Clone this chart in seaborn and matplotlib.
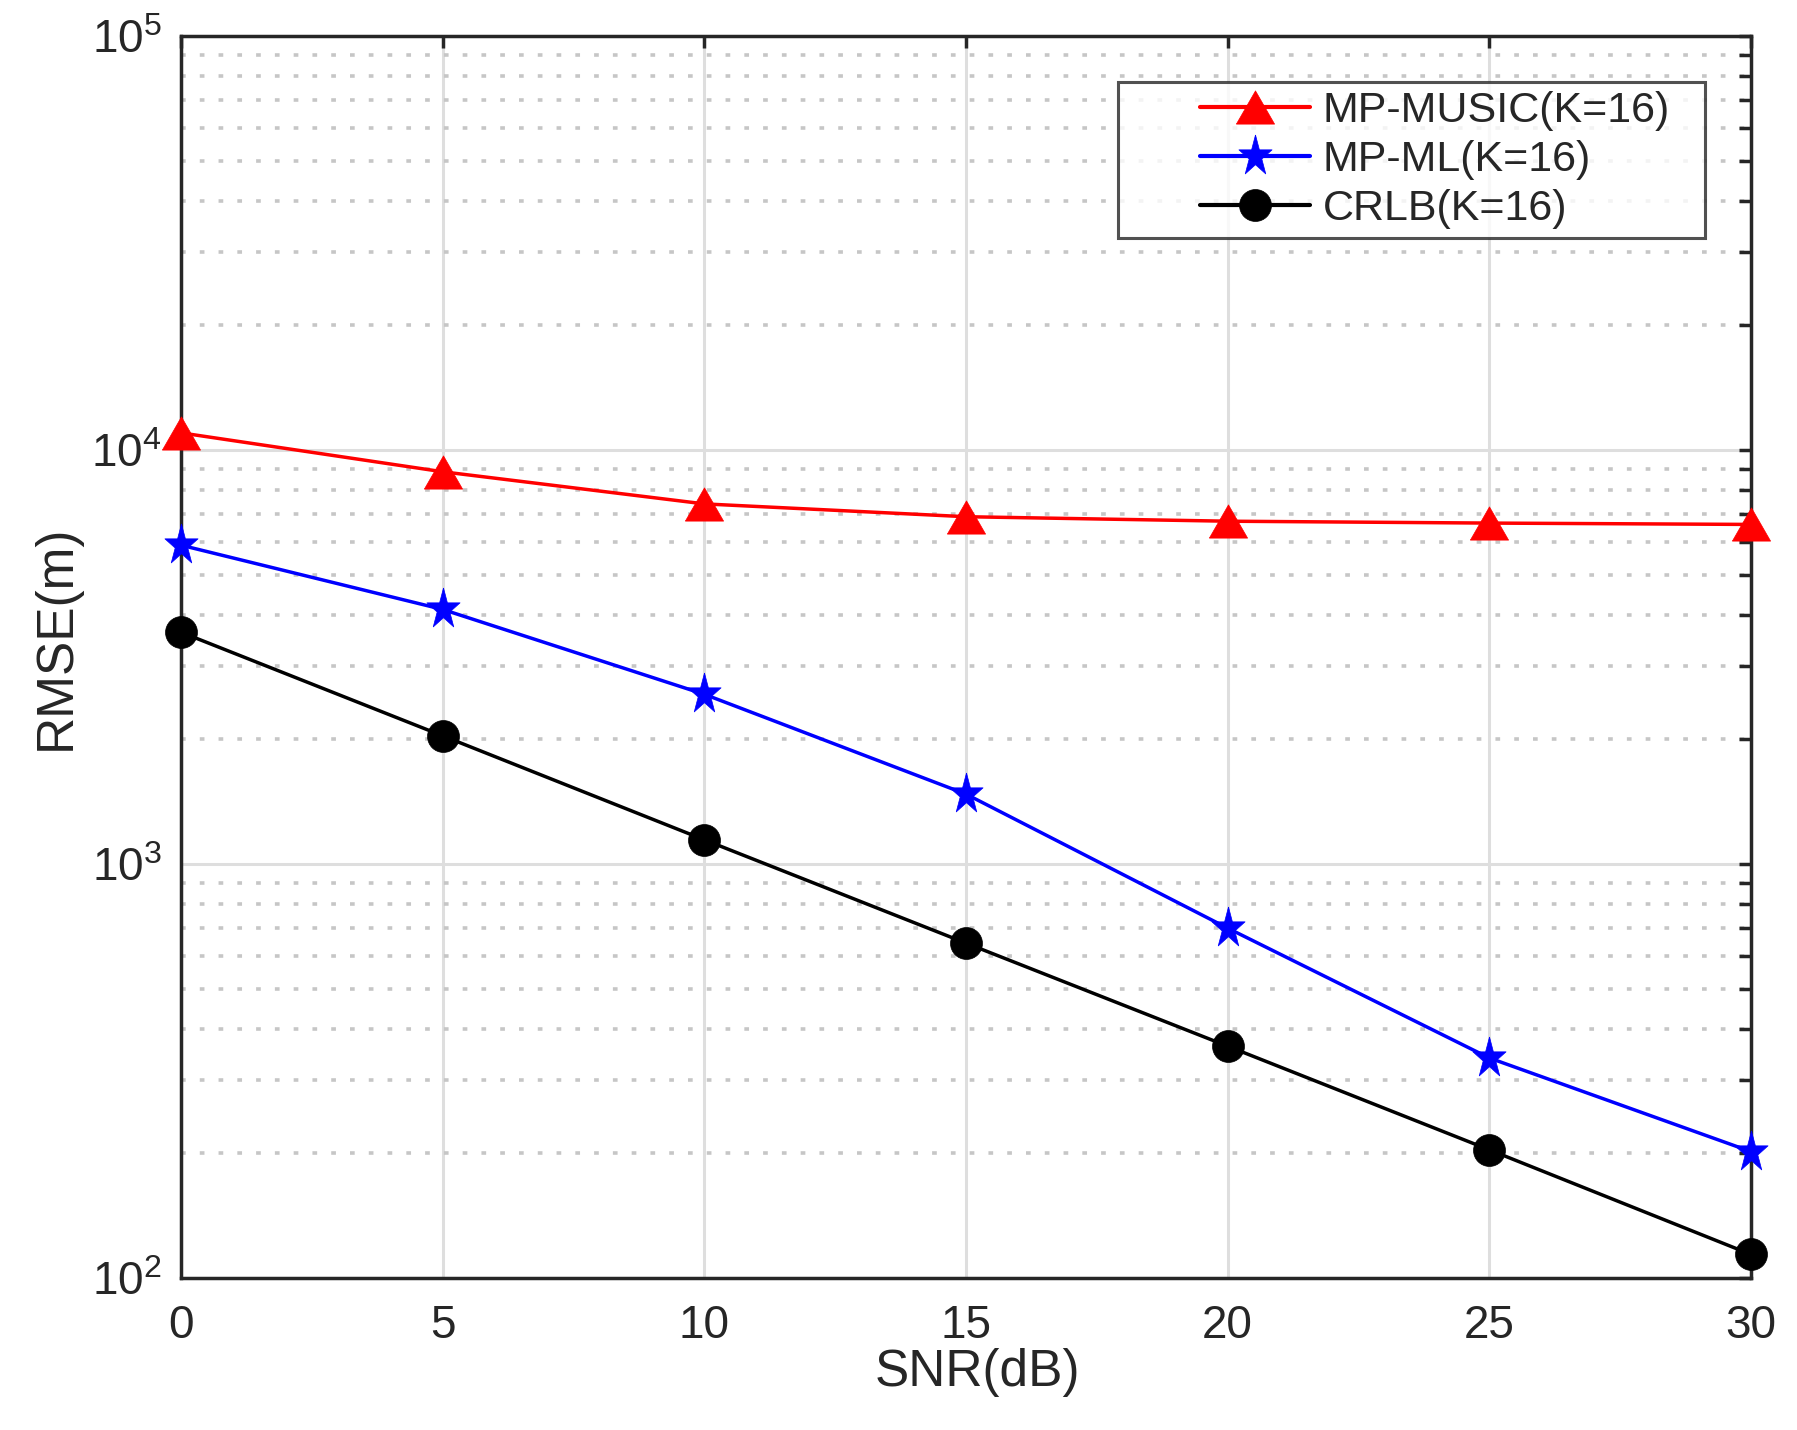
import numpy as np
import pandas as pd
import matplotlib
matplotlib.use("Agg")
import matplotlib.pyplot as plt
import seaborn as sns
from matplotlib.ticker import LogLocator, LogFormatterSciNotation, NullFormatter
from matplotlib.legend_handler import HandlerLine2D

snr = [0, 5, 10, 15, 20, 25, 30]
music = [11000, 8860, 7410, 6900, 6730, 6660, 6610]
ml = [5890, 4120, 2570, 1475, 700, 340, 202]
crlb = [3630, 2040, 1144, 644, 363, 204, 114]
labels = ["MP-MUSIC(K=16)", "MP-ML(K=16)", "CRLB(K=16)"]

sns.set_style("white")
plt.rcParams['font.family'] = ['Liberation Sans', 'DejaVu Sans']
plt.rcParams['mathtext.fontset'] = 'custom'
plt.rcParams['mathtext.rm'] = 'Liberation Sans'
plt.rcParams['mathtext.default'] = 'regular'

df = pd.DataFrame({
    "SNR": snr * 3,
    "RMSE": music + ml + crlb,
    "series": [labels[0]] * 7 + [labels[1]] * 7 + [labels[2]] * 7,
})

# MATLAB-like marker shapes
tri = [(-1.0, -0.87), (1.0, -0.87), (0.0, 0.87), (-1.0, -0.87)]
ang = np.deg2rad(90 + 36 * np.arange(10))
rad = np.where(np.arange(10) % 2 == 0, 1.0, 0.382)
star = [(0.81 * r * np.cos(a), r * np.sin(a)) for r, a in zip(rad, ang)]
star.append(star[0])

fig = plt.figure(figsize=(17.97, 14.30), dpi=100)
ax = fig.add_axes([181 / 1797, 1 - 1278 / 1430, 1570 / 1797, 1242 / 1430])

colors = ["#ff0000", "#0000ff", "#000000"]
markers = [tri, star, "o"]
msizes = [27.5, 31, 23]
for lab, c, m, ms in zip(labels, colors, markers, msizes):
    sub = df[df["series"] == lab]
    sns.lineplot(data=sub, x="SNR", y="RMSE", color=c, marker=m, markersize=ms,
                 markeredgecolor=c, markeredgewidth=0.5, linewidth=2.5, label=lab,
                 ax=ax, zorder=3, clip_on=False)

ax.set_yscale("log")
ax.set_xlim(0, 30)
ax.set_ylim(1e2, 1e5)
ax.set_xticks(snr)
ax.yaxis.set_major_locator(LogLocator(base=10, numticks=10))
ax.yaxis.set_minor_locator(LogLocator(base=10, subs=np.arange(2, 10), numticks=20))
ax.yaxis.set_major_formatter(LogFormatterSciNotation())
ax.yaxis.set_minor_formatter(NullFormatter())

ax.grid(True, which="major", color="#dedede", linewidth=2.2, linestyle="-")
ax.grid(True, which="minor", axis="y", color="#c6c6c6", linewidth=2.6,
        linestyle=(0, (1.3, 3.9)))
ax.set_axisbelow(True)

for s in ax.spines.values():
    s.set_color("#262626")
    s.set_linewidth(2.5)
ax.tick_params(which="both", direction="in", top=True, right=True, color="#262626",
               width=2.5, length=8.5, labelsize=33, labelcolor="#262626")
ax.tick_params(axis="x", pad=19)
ax.tick_params(axis="y", pad=14)

ax.set_xlabel("SNR(dB)", fontsize=37, color="#262626")
ax.set_ylabel("RMSE(m)", fontsize=37, color="#262626")
ax.xaxis.set_label_coords(0.507, -0.056)
ax.yaxis.set_label_coords(-0.064, 0.516)

fs_leg = 31
xpad = 1.68
leg = ax.legend(loc="upper left", bbox_to_anchor=(0.5968, 0.80, 0.3739, 0.163),
                mode="expand", fontsize=fs_leg,
                frameon=True, fancybox=False, edgecolor="#262626",
                handlelength=4.24, handletextpad=0.3, labelspacing=0.2,
                borderpad=0.22, borderaxespad=0,
                handler_map={plt.Line2D: HandlerLine2D(xpad=xpad)})
leg.get_frame().set_linewidth(2.2)
for h, ms in zip(leg.legend_handles, [27.5, 31, 23]):
    h.set_markersize(ms)
    h.set_linewidth(3.0)

fig.savefig("out.png", dpi=100)
